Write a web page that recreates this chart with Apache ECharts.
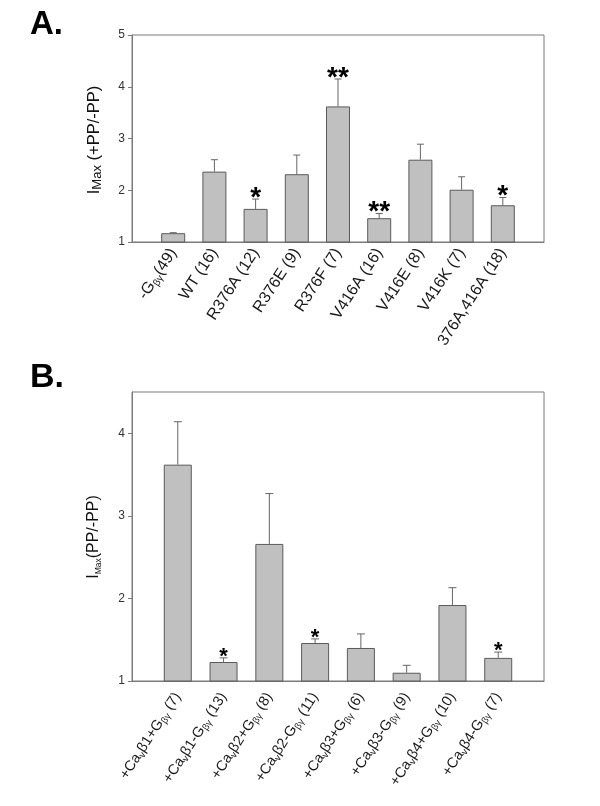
<!DOCTYPE html>
<html>
<head>
<meta charset="utf-8">
<script src="https://cdn.jsdelivr.net/npm/echarts@6/dist/echarts.min.js"></script>
<style>
html,body{margin:0;padding:0;background:#fff;}
#c{width:600px;height:806px;}
</style>
</head>
<body>
<div id="c"></div>
<script>
// Panel A data
const catsA = ['-G{s|βγ}(49)', 'WT (16)', 'R376A (12)', 'R376E (9)', 'R376F (7)', 'V416A (16)', 'V416E (8)', 'V416K (7)', '376A,416A (18)'];
const meanA = [1.17, 2.36, 1.64, 2.31, 3.62, 1.46, 2.59, 2.01, 1.71];
const errA  = [0.01, 0.23, 0.19, 0.37, 0.53, 0.09, 0.30, 0.25, 0.15];
const sigA  = ['', '', '*', '', '**', '**', '', '', '*'];
const ticksA = {min: 1, max: 5, interval: 1};

// Panel B data
const catsB = ['+Ca{s|v}β1+G{s|βγ} (7)', '+Ca{s|v}β1-G{s|βγ} (13)', '+Ca{s|v}β2+G{s|βγ} (8)', '+Ca{s|v}β2-G{s|βγ} (11)',
               '+Ca{s|v}β3+G{s|βγ} (6)', '+Ca{s|v}β3-G{s|βγ} (9)', '+Ca{s|v}β4+G{s|βγ} (10)', '+Ca{s|v}β4-G{s|βγ} (7)'];
const meanB = [3.62, 1.23, 2.66, 1.46, 1.40, 1.10, 1.92, 1.28];
const errB  = [0.52, 0.05, 0.61, 0.05, 0.17, 0.09, 0.21, 0.07];
const sigB  = ['', '*', '', '*', '', '', '', '*'];
const ticksB = {min: 1, max: 4.5, interval: 1};

const FONT = 'Arial, "Liberation Sans", sans-serif';
const GRAY = '#7a7a7a';

function pad(arr) { return [''].concat(arr, ['']); }
function padData(arr) { return [null].concat(arr, [null]); }

function xAxis(gridIndex, cats, margin, fs, subFs) {
  return {
    type: 'category', gridIndex, data: pad(cats), boundaryGap: false,
    axisLine: {show: true, lineStyle: {color: GRAY, width: 1}},
    axisTick: {show: false},
    splitLine: {show: false},
    axisLabel: {
      interval: 0, rotate: 57, margin, color: '#1a1a1a', fontFamily: FONT, fontSize: fs, lineHeight: fs + 3,
      rich: {s: {fontSize: subFs, lineHeight: subFs - 2, verticalAlign: 'bottom', fontFamily: FONT, color: '#1a1a1a'}}
    }
  };
}
function yAxis(gridIndex, t) {
  return {
    type: 'value', gridIndex, min: t.min, max: t.max, interval: t.interval,
    axisLine: {show: true, lineStyle: {color: GRAY, width: 1}},
    axisTick: {show: true, length: 4, lineStyle: {color: GRAY}},
    splitLine: {show: false},
    axisLabel: {color: '#333', fontFamily: FONT, fontSize: 12, margin: 7, showMaxLabel: t.max % t.interval === 0}
  };
}
function barSeries(idx, means, bw) {
  return {
    type: 'bar', xAxisIndex: idx, yAxisIndex: idx, data: padData(means), barWidth: bw,
    itemStyle: {color: '#c0c0c0', borderColor: '#5a5a5a', borderWidth: 1},
    silent: true, z: 2
  };
}
function errSeries(idx, means, errs, sigs, capW, starSize) {
  return {
    type: 'custom', xAxisIndex: idx, yAxisIndex: idx, z: 3, silent: true,
    data: means.map((m, i) => [i + 1, m, m + errs[i]]),
    encode: {x: 0, y: [1, 2]},
    renderItem: function (params, api) {
      const x = api.value(0), m = api.value(1), t = api.value(2);
      const p0 = api.coord([x, m]), p1 = api.coord([x, t]);
      const children = [
        {type: 'line', shape: {x1: p0[0], y1: p0[1], x2: p1[0], y2: p1[1]}, style: {stroke: '#666', lineWidth: 1}},
        {type: 'line', shape: {x1: p1[0] - capW / 2, y1: p1[1], x2: p1[0] + capW / 2, y2: p1[1]}, style: {stroke: '#666', lineWidth: 1}}
      ];
      const s = sigs[params.dataIndex];
      if (s) {
        children.push({type: 'text', x: p1[0], y: p1[1] - 1,
          style: {text: s, fill: '#000', fontSize: starSize, fontWeight: 'bold', fontFamily: FONT,
                  align: 'center', verticalAlign: 'middle', textAlign: 'center', textVerticalAlign: 'middle'}});
      }
      return {type: 'group', children};
    }
  };
}

const chart = echarts.init(document.getElementById('c'), null, {renderer: 'canvas', width: 600, height: 806});
chart.setOption({
  animation: false,
  backgroundColor: '#fff',
  grid: [
    {left: 132, top: 35, width: 412, height: 207, show: true, borderColor: GRAY, borderWidth: 1, backgroundColor: 'transparent'},
    {left: 132, top: 392, width: 412, height: 289, show: true, borderColor: GRAY, borderWidth: 1, backgroundColor: 'transparent'}
  ],
  xAxis: [xAxis(0, catsA, 8, 16, 10), xAxis(1, catsB, 13, 14.5, 9.5)],
  yAxis: [yAxis(0, ticksA), yAxis(1, ticksB)],
  series: [
    barSeries(0, meanA, 24),
    errSeries(0, meanA, errA, sigA, 7, 28),
    barSeries(1, meanB, 28),
    errSeries(1, meanB, errB, sigB, 8, 22)
  ],
  graphic: [
    {type: 'text', left: 30, top: 8, style: {text: 'A.', fontSize: 33, fontWeight: 'bold', fontFamily: FONT, fill: '#000'}},
    {type: 'text', left: 30, top: 361, style: {text: 'B.', fontSize: 34, fontWeight: 'bold', fontFamily: FONT, fill: '#000'}},
    {type: 'text', x: 94, y: 140, rotation: Math.PI / 2,
      style: {text: 'I{s|Max} (+PP/-PP)', fontSize: 16.5, lineHeight: 19, fontFamily: FONT, fill: '#111',
              align: 'center', verticalAlign: 'middle',
              rich: {s: {fontSize: 13, lineHeight: 12, verticalAlign: 'bottom', fontFamily: FONT, fill: '#111'}}}},
    {type: 'text', x: 94, y: 537, rotation: Math.PI / 2,
      style: {text: 'I{s|Max}(PP/-PP)', fontSize: 16, lineHeight: 19, fontFamily: FONT, fill: '#111',
              align: 'center', verticalAlign: 'middle',
              rich: {s: {fontSize: 8.5, lineHeight: 5, verticalAlign: 'bottom', fontFamily: FONT, fill: '#111'}}}}
  ]
});
</script>
</body>
</html>
